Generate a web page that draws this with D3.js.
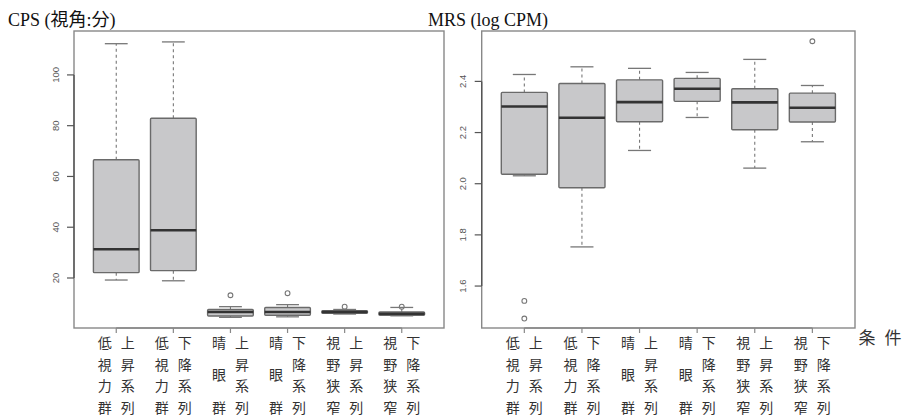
<!DOCTYPE html>
<html><head><meta charset="utf-8">
<script src="https://cdn.jsdelivr.net/npm/d3@7"></script>
<style>body{margin:0;background:#fff}svg{display:block}</style>
</head><body>
<script>
// ---- data ----
const groups = ["低視力群","低視力群","晴眼群","晴眼群","視野狭窄","視野狭窄"];
const series = ["上昇系列","下降系列","上昇系列","下降系列","上昇系列","下降系列"];
// CPS (視角:分): [lowerWhisker, Q1, median, Q3, upperWhisker]
const cpsStats = [
  [19.2, 22.1, 31.3, 66.6, 112.3],
  [18.9, 22.9, 38.8, 82.9, 113.0],
  [4.5, 5.0, 6.6, 7.6, 8.7],
  [4.7, 5.3, 6.6, 8.4, 9.5],
  [5.8, 6.1, 6.6, 7.1, 7.6],
  [5.1, 5.3, 5.9, 6.6, 8.4]
];
const cpsOutliers = [[], [], [13.2], [14.0], [8.7], [8.7]];
const cpsTicks = [20, 40, 60, 80, 100];
// MRS (log CPM)
const mrsStats = [
  [2.031, 2.037, 2.302, 2.357, 2.427],
  [1.753, 1.984, 2.258, 2.392, 2.457],
  [2.130, 2.242, 2.319, 2.406, 2.451],
  [2.259, 2.322, 2.371, 2.412, 2.435],
  [2.061, 2.211, 2.318, 2.371, 2.486],
  [2.164, 2.241, 2.297, 2.354, 2.384]
];
const mrsOutliers = [[1.542, 1.473], [], [], [], [], [2.557]];
const mrsTicks = [1.6, 1.8, 2.0, 2.2, 2.4];
const mrsTickLabels = ["1.6", "1.8", "2.0", "2.2", "2.4"];

const W = 908, H = 418;
const svg = d3.select("body").append("svg").attr("width", W).attr("height", H);
const cjk = "'Noto Sans CJK JP', 'Noto Sans CJK SC', sans-serif";

function panel(opt) {
  const g = svg.append("g");
  const x = d3.scaleLinear().domain([0.26, 6.74]).range([opt.x0, opt.x1]);
  const y = d3.scaleLinear().domain(opt.yDomain).range([opt.y1, opt.y0]);
  const bw = x(0.8) - x(0);
  const cw = x(0.4) - x(0);

  // frame
  g.append("rect").attr("x", opt.x0).attr("y", opt.y0)
    .attr("width", opt.x1 - opt.x0).attr("height", opt.y1 - opt.y0)
    .attr("fill", "none").attr("stroke", "#888").attr("stroke-width", 1.4);

  // boxes
  opt.stats.forEach((s, i) => {
    const cx = x(i + 1);
    const [lw, q1, md, q3, uw] = s;
    g.append("line").attr("x1", cx).attr("x2", cx).attr("y1", y(q3)).attr("y2", y(uw))
      .attr("stroke", "#777").attr("stroke-width", 1.1).attr("stroke-dasharray", "3,3");
    g.append("line").attr("x1", cx).attr("x2", cx).attr("y1", y(q1)).attr("y2", y(lw))
      .attr("stroke", "#777").attr("stroke-width", 1.1).attr("stroke-dasharray", "3,3");
    [uw, lw].forEach(v => {
      g.append("line").attr("x1", cx - cw / 2).attr("x2", cx + cw / 2)
        .attr("y1", y(v)).attr("y2", y(v)).attr("stroke", "#777").attr("stroke-width", 1.3);
    });
    g.append("rect").attr("x", cx - bw / 2).attr("y", y(q3))
      .attr("width", bw).attr("height", Math.max(0.5, y(q1) - y(q3)))
      .attr("fill", "#c8c8ca").attr("stroke", "#6a6a6a").attr("stroke-width", 1.4).attr("rx", 1);
    g.append("line").attr("x1", cx - bw / 2).attr("x2", cx + bw / 2)
      .attr("y1", y(md)).attr("y2", y(md)).attr("stroke", "#333").attr("stroke-width", 2.6);
    opt.outliers[i].forEach(v => {
      g.append("circle").attr("cx", cx).attr("cy", y(v)).attr("r", 2.4)
        .attr("fill", "none").attr("stroke", "#777").attr("stroke-width", 1.1);
    });
  });

  // y axis (R style)
  const t0 = opt.ticks[0], t1 = opt.ticks[opt.ticks.length - 1];
  g.append("line").attr("x1", opt.x0).attr("x2", opt.x0).attr("y1", y(t0)).attr("y2", y(t1))
    .attr("stroke", "#555").attr("stroke-width", 1.4);
  opt.ticks.forEach((t, i) => {
    g.append("line").attr("x1", opt.x0 - 7).attr("x2", opt.x0).attr("y1", y(t)).attr("y2", y(t))
      .attr("stroke", "#555").attr("stroke-width", 1.2);
    g.append("text").attr("transform", `translate(${opt.x0 - 19},${y(t)}) rotate(-90)`)
      .attr("text-anchor", "middle").attr("dominant-baseline", "central")
      .attr("font-family", "'Liberation Sans', Arial, sans-serif").attr("font-size", 9.5)
      .attr("fill", "#555").text(opt.tickLabels[i]);
  });

  // x axis ticks
  g.append("line").attr("x1", x(1)).attr("x2", x(6)).attr("y1", opt.y1).attr("y2", opt.y1)
    .attr("stroke", "#888").attr("stroke-width", 1.4);
  d3.range(1, 7).forEach(i => {
    g.append("line").attr("x1", x(i)).attr("x2", x(i)).attr("y1", opt.y1).attr("y2", opt.y1 + 5)
      .attr("stroke", "#888").attr("stroke-width", 1.2);
  });

  // category labels (vertical)
  const rows = [342, 363.5, 385, 406.5];
  groups.forEach((gname, i) => {
    const cx = x(i + 1);
    const chars = Array.from(gname);
    const rowsIdx = chars.length === 3 ? [0, 1.5, 3] : [0, 1, 2, 3];
    chars.forEach((c, k) => {
      const r = rowsIdx[k];
      const yy = rows[0] + r * (rows[1] - rows[0]);
      g.append("text").attr("x", cx - 11.5).attr("y", yy)
        .attr("text-anchor", "middle").attr("dominant-baseline", "central")
        .attr("font-family", cjk).attr("font-size", 14).attr("fill", "#333").text(c);
    });
    Array.from(series[i]).forEach((c, k) => {
      g.append("text").attr("x", cx + 11.5).attr("y", rows[k])
        .attr("text-anchor", "middle").attr("dominant-baseline", "central")
        .attr("font-family", cjk).attr("font-size", 14).attr("fill", "#333").text(c);
    });
  });

  // title
  g.append("text").attr("x", opt.titleX).attr("y", 26)
    .attr("font-family", "'Liberation Serif', 'Times New Roman', " + cjk)
    .attr("font-size", 18).attr("fill", "#111").text(opt.title);
}

panel({
  x0: 74, x1: 444, y0: 31, y1: 328,
  yDomain: [0.3, 117.3],
  stats: cpsStats, outliers: cpsOutliers,
  ticks: cpsTicks, tickLabels: cpsTicks.map(String),
  title: "CPS (視角:分)", titleX: 8
});
panel({
  x0: 481.7, x1: 855, y0: 31, y1: 328,
  yDomain: [1.436, 2.597],
  stats: mrsStats, outliers: mrsOutliers,
  ticks: mrsTicks, tickLabels: mrsTickLabels,
  title: "MRS (log CPM)", titleX: 428
});

svg.append("text").attr("x", 867).attr("y", 336).attr("text-anchor", "middle")
  .attr("dominant-baseline", "central").attr("font-family", cjk).attr("font-size", 17)
  .attr("fill", "#333").text("条");
svg.append("text").attr("x", 893).attr("y", 336).attr("text-anchor", "middle")
  .attr("dominant-baseline", "central").attr("font-family", cjk).attr("font-size", 17)
  .attr("fill", "#333").text("件");
</script>
</body></html>
